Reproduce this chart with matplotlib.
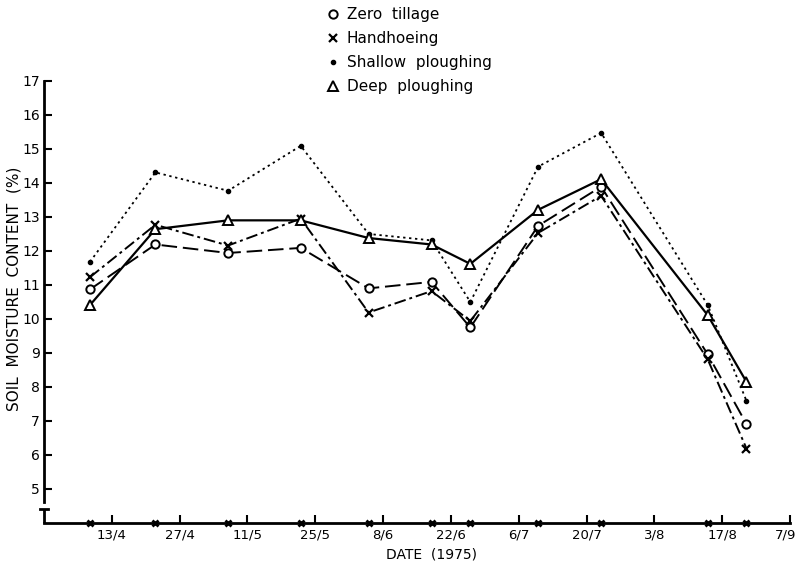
import matplotlib
matplotlib.use("Agg")
import matplotlib.pyplot as plt
import matplotlib.transforms as mtransforms
from matplotlib.lines import Line2D

# sampling dates, in days after 13 April 1975
sample_days = [-4.5, 9, 24, 39, 53, 66, 74, 88, 101, 123, 131]

zero_tillage = [10.86, 12.18, 11.93, 12.08, 10.89, 11.08, 9.74, 12.73, 13.88, 8.95, 6.90]
handhoeing = [11.22, 12.76, 12.15, 12.94, 10.18, 10.81, 9.93, 12.52, 13.61, 8.80, 6.18]
shallow_ploughing = [11.67, 14.30, 13.76, 15.08, 12.49, 12.30, 10.49, 14.47, 15.46, 10.40, 7.58]
deep_ploughing = [10.40, 12.63, 12.89, 12.89, 12.37, 12.18, 11.61, 13.20, 14.10, 10.10, 8.14]

tick_days = [0, 14, 28, 42, 56, 70, 84, 98, 112, 126, 140]
tick_labels = ["13/4", "27/4", "11/5", "25/5", "8/6", "22/6", "6/7", "20/7", "3/8", "17/8", "7/9"]
y_ticks = list(range(5, 18))

plt.rcParams["font.family"] = ["DejaVu Sans"]
plt.rcParams["font.size"] = 10

fig = plt.figure(figsize=(7.98, 5.69), dpi=100)
ax = fig.add_axes([0.0551, 0.0814, 0.935, 0.777])

lw = 1.4
ax.plot(sample_days, zero_tillage, color="black", lw=lw, dashes=(8, 3),
        marker="o", ms=6, mfc="white", mec="black", mew=1.4, label="Zero tillage")
ax.plot(sample_days, handhoeing, color="black", lw=lw, dashes=(6, 2, 1.5, 2),
        marker="x", ms=6, mew=1.6, label="Handhoeing")
ax.plot(sample_days, shallow_ploughing, color="black", lw=1.3, dashes=(1.3, 2),
        marker="o", ms=3, mfc="black", mec="black", label="Shallow ploughing")
ax.plot(sample_days, deep_ploughing, color="black", lw=1.6, linestyle="-",
        marker="^", ms=7, mfc="white", mec="black", mew=1.4, label="Deep ploughing")

# sampling dates marked on the time axis
ax.plot(sample_days, [4.0] * len(sample_days), linestyle="none", marker="x",
        color="black", ms=5, mew=2, clip_on=False, zorder=5)

ax.set_xlim(-14, 140)
ax.set_ylim(4, 17)
ax.set_xticks(tick_days)
ax.set_xticklabels(tick_labels)
ax.set_yticks(y_ticks)
ax.tick_params(axis="both", direction="in", length=6, width=1.5, labelsize=10)
ax.tick_params(axis="x", pad=4, labelsize=9.5)
ax.tick_params(axis="y", pad=3)

# keep the last date label inside the figure
last = ax.get_xticklabels()[-1]
last.set_horizontalalignment("right")
last.set_transform(last.get_transform() +
                   mtransforms.ScaledTranslation(6 / 100, 0, fig.dpi_scale_trans))

for side in ["top", "right"]:
    ax.spines[side].set_visible(False)
for side in ["left", "bottom"]:
    ax.spines[side].set_linewidth(2)

# broken y axis near the origin
ax.spines["left"].set_bounds(4.6, 17)
ax.plot([-14, -14], [4.0, 4.4], color="black", lw=2, clip_on=False, solid_capstyle="butt")
ax.plot([-14.9, -13.1], [4.4, 4.4], color="black", lw=2, clip_on=False)

ax.set_xlabel("DATE  (1975)", fontsize=10)
ax.xaxis.set_label_coords(0.52, -0.057)
ax.set_ylabel("SOIL  MOISTURE  CONTENT  (%)", fontsize=11)
ax.yaxis.set_label_coords(-0.03, 0.53)

handles = [
    Line2D([], [], linestyle="none", marker="o", ms=6, mfc="white", mec="black", mew=1.4),
    Line2D([], [], linestyle="none", marker="x", ms=6, mew=1.6, color="black"),
    Line2D([], [], linestyle="none", marker="o", ms=3, color="black"),
    Line2D([], [], linestyle="none", marker="^", ms=7, mfc="white", mec="black", mew=1.4),
]
labels = ["Zero  tillage", "Handhoeing", "Shallow  ploughing", "Deep  ploughing"]
fig.legend(handles, labels, loc="upper left", bbox_to_anchor=(0.398, 1.006),
           frameon=False, handlelength=0.6, handletextpad=0.6, labelspacing=0.58,
           fontsize=11, borderpad=0.2)

fig.savefig("out.png", dpi=100)
